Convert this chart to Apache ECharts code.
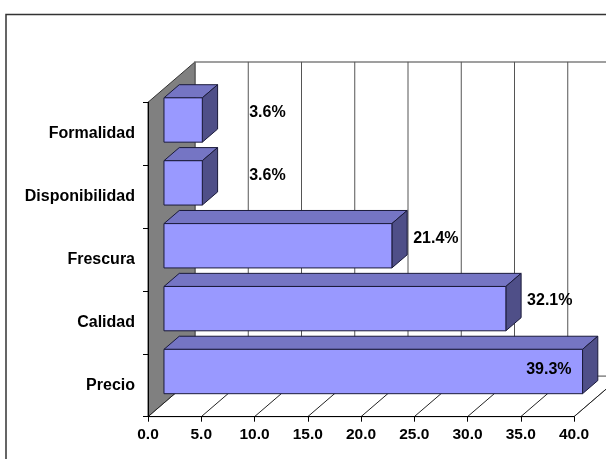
<!DOCTYPE html>
<html>
<head>
<meta charset="utf-8">
<script src="https://cdn.jsdelivr.net/npm/echarts@6/dist/echarts.min.js"></script>
<style>
  html, body { margin: 0; padding: 0; background: #fff; }
  #chart { width: 606px; height: 459px; }
</style>
</head>
<body>
<div id="chart"></div>
<script>
// Reasons for choosing a supplier (share of answers, %)
const categories = ['Precio', 'Calidad', 'Frescura', 'Disponibilidad', 'Formalidad'];
const shares = [39.3, 32.1, 21.4, 3.6, 3.6];
const xTicks = [0, 5, 10, 15, 20, 25, 30, 35, 40];

// Oblique projection of the depth axis
const DEPTH_DX = 47;
const DEPTH_DY = -40.4;
// Bars sit in the middle slice of the depth
const BAR_D0 = 0.34;
const BAR_DD = 0.325;
const BAR_HEIGHT = 0.705;

const FONT = '"Liberation Sans", Arial, sans-serif';

const chart = echarts.init(document.getElementById('chart'), null, { renderer: 'canvas' });

function renderWalls(params, api) {
  const cs = params.coordSys;
  const L = cs.x, T = cs.y, R = cs.x + cs.width, B = cs.y + cs.height;
  const children = [];
  // Left side wall
  children.push({
    type: 'polygon',
    shape: { points: [[L, B], [L + DEPTH_DX, B + DEPTH_DY], [L + DEPTH_DX, T + DEPTH_DY], [L, T]] },
    style: { fill: '#808080', stroke: '#333', lineWidth: 1 }
  });
  // Back wall
  children.push({
    type: 'rect',
    shape: { x: L + DEPTH_DX, y: T + DEPTH_DY, width: R - L, height: B - T },
    style: { fill: '#fff', stroke: '#808080', lineWidth: 1.5 }
  });
  // Floor
  children.push({
    type: 'polygon',
    shape: { points: [[L, B], [R, B], [R + DEPTH_DX, B + DEPTH_DY], [L + DEPTH_DX, B + DEPTH_DY]] },
    style: { fill: '#fff', stroke: '#808080', lineWidth: 1 }
  });
  xTicks.forEach(function (v) {
    const x = api.coord([v, 0])[0];
    // vertical gridline on the back wall
    children.push({
      type: 'line',
      shape: { x1: x + DEPTH_DX, y1: T + DEPTH_DY, x2: x + DEPTH_DX, y2: B + DEPTH_DY },
      style: { stroke: '#555', lineWidth: 1 }
    });
    // receding gridline on the floor
    children.push({
      type: 'line',
      shape: { x1: x, y1: B, x2: x + DEPTH_DX, y2: B + DEPTH_DY },
      style: { stroke: '#222', lineWidth: 1 }
    });
  });
  return { type: 'group', children: children };
}

function renderBar(params, api) {
  const cat = api.value(1);
  const val = api.value(0);
  const p0 = api.coord([0, cat]);
  const p1 = api.coord([val, cat]);
  const band = api.size([0, 1])[1];
  const h = band * BAR_HEIGHT;
  const ox = BAR_D0 * DEPTH_DX, oy = BAR_D0 * DEPTH_DY;
  const dx = BAR_DD * DEPTH_DX, dy = BAR_DD * DEPTH_DY;
  const x0 = p0[0] + ox, x1 = p1[0] + ox;
  const yT = p0[1] - h / 2 + oy, yB = p0[1] + h / 2 + oy;
  const edge = { stroke: '#1a1a3a', lineWidth: 1, lineJoin: 'round' };
  const children = [
    { type: 'polygon',
      shape: { points: [[x0, yT], [x0 + dx, yT + dy], [x1 + dx, yT + dy], [x1, yT]] },
      style: Object.assign({ fill: '#7575c4' }, edge) },
    { type: 'polygon',
      shape: { points: [[x1, yT], [x1 + dx, yT + dy], [x1 + dx, yB + dy], [x1, yB]] },
      style: Object.assign({ fill: '#4f4f88' }, edge) },
    { type: 'rect',
      shape: { x: x0, y: yT, width: x1 - x0, height: yB - yT },
      style: Object.assign({ fill: '#9999ff' }, edge) }
  ];
  // value label: beside the bar end, or inside the front face when there is no room
  const text = val.toFixed(1) + '%';
  const labelStyle = { fontSize: 16, fontWeight: 'bold', fontFamily: FONT, fill: '#000' };
  const outsideX = Math.max(x1 + dx + 6, api.coord([8, cat])[0] + ox);
  if (outsideX + 52 > api.getWidth()) {
    children.push({
      type: 'text',
      style: Object.assign({ text: text, x: x1 - 11, y: (yT + yB) / 2 - 2,
                             align: 'right', verticalAlign: 'middle' }, labelStyle)
    });
  } else {
    children.push({
      type: 'text',
      style: Object.assign({ text: text, x: outsideX, y: (yT + yB) / 2 + dy / 2 - 1,
                             align: 'left', verticalAlign: 'middle' }, labelStyle)
    });
  }
  return { type: 'group', children: children };
}

const option = {
  backgroundColor: '#fff',
  animation: false,
  grid: { left: 148, right: 32, top: 102.3, bottom: 42.3, containLabel: false },
  xAxis: {
    type: 'value', min: 0, max: 40, interval: 5, z: 10,
    axisLine: { show: true, lineStyle: { color: '#000', width: 1 } },
    axisTick: { show: true, length: 5, lineStyle: { color: '#000' } },
    splitLine: { show: false },
    axisLabel: {
      margin: 10, color: '#000', fontFamily: FONT, fontWeight: 'bold', fontSize: 15.5,
      formatter: function (v) { return v.toFixed(1); }
    }
  },
  yAxis: {
    type: 'category', data: categories, z: 10,
    axisLine: { show: true, lineStyle: { color: '#000', width: 1 } },
    axisTick: { show: true, length: 5, lineStyle: { color: '#000' } },
    splitLine: { show: false },
    axisLabel: { margin: 13, color: '#000', fontFamily: FONT, fontWeight: 'bold', fontSize: 16 }
  },
  graphic: [{
    type: 'rect', silent: true, z: 100,
    shape: { x: 6, y: 14.5, width: 800, height: 800 },
    style: { fill: 'none', stroke: '#333', lineWidth: 1.5 }
  }],
  series: [
    { type: 'custom', z: 1, renderItem: renderWalls, data: [[0, 0]], silent: true },
    { type: 'custom', z: 2, renderItem: renderBar,
      data: shares.map(function (v, i) { return [v, i]; }) }
  ]
};
chart.setOption(option);
</script>
</body>
</html>
